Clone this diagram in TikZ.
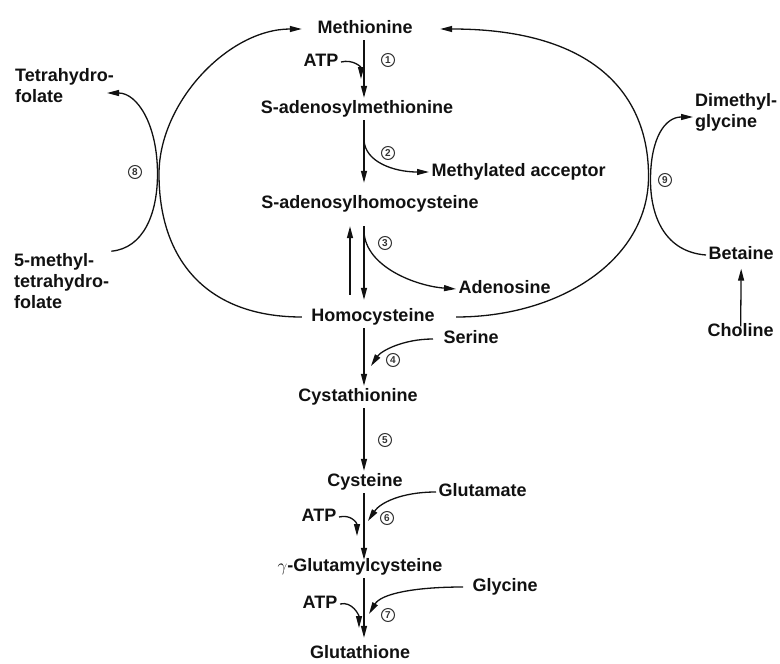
\documentclass[tikz,border=0pt]{standalone}
\usepackage{fontspec}
\setmainfont{Liberation Sans}
\usetikzlibrary{arrows.meta}
\definecolor{PathInk}{HTML}{111111}
\definecolor{StepGray}{HTML}{333333}

\begin{document}
\begin{tikzpicture}[
    x=1pt, y=-1pt,
    font=\fontsize{18}{21}\selectfont\bfseries,
    compound/.style={
        inner sep=2.5pt,
        text height=13pt,
        text depth=4pt,
        text=PathInk
    },
    stack/.style={align=left, inner sep=2pt, text=PathInk},
    enzyme/.style={circle, draw=StepGray, line width=1pt,
                   font=\fontsize{10}{10}\selectfont\bfseries,
                   text=StepGray, inner sep=0pt, minimum size=13pt},
    flow/.style={-{Triangle[length=12pt,width=6pt]},
                 draw=PathInk, line width=1.3pt}
]
    \useasboundingbox (0,0) rectangle (780,664);

    % main column
    \node[compound] (met) at (365,29) {Methionine};
    \node[compound] (atpa) at (321,62) {ATP};
    \node[compound] (sam) at (357,109) {S-adenosylmethionine};
    \node[compound, anchor=west] (macc) at (429,172) {Methylated acceptor};
    \node[compound] (sah) at (370,204) {S-adenosylhomocysteine};
    \node[compound, anchor=west] (aden) at (456,289) {Adenosine};
    \node[compound] (hcy) at (373,317) {Homocysteine};
    \node[compound, anchor=west] (ser) at (441,339) {Serine};
    \node[compound] (cysta) at (358,397) {Cystathionine};
    \node[compound] (cys) at (365,482) {Cysteine};
    \node[compound, anchor=west] (glu) at (436,492) {Glutamate};
    \node[compound] (atpb) at (319,517) {ATP};
    \node[compound] (ggc) at (360,567) {$\gamma$-Glutamylcysteine};
    \node[compound, anchor=west] (gly) at (470,587) {Glycine};
    \node[compound] (atpc) at (320,604) {ATP};
    \node[compound] (gsh) at (360,654) {Glutathione};

    % side cycles
    \node[stack, anchor=west] (thf) at (13,86) {Tetrahydro-\\folate};
    \node[stack, anchor=west] (mthf) at (12,281)
        {5-methyl-\\tetrahydro-\\folate};
    \node[stack, anchor=west] (dmg) at (693,112) {Dimethyl-\\glycine};
    \node[compound, anchor=west] (bet) at (706,255) {Betaine};
    \node[compound, anchor=west] (cho) at (705,332) {Choline};

    \foreach \num/\x/\y in {1/388/60, 2/388/153, 3/385/243, 4/393/360,
                            5/385/440, 6/387/518, 7/388/615, 8/135/172,
                            9/665/180} {
        \node[enzyme] (e\num) at (\x,\y) {\num};
    }

    \coordinate (axis) at (364,0);
    \coordinate (axisb) at (350,0);
    \coordinate (a1) at (361,79);
    \coordinate (a6) at (357,536);
    \coordinate (a7) at (359,628);
    \coordinate (b2) at (364,140);
    \coordinate (b3) at (364,232);
    \coordinate (c4) at (371,366);
    \coordinate (c6) at (368,521);
    \coordinate (c7) at (369,614);
    \coordinate (lk) at (159,174);
    \coordinate (fk) at (157.5,174);
    \coordinate (t8) at (107,93);
    \coordinate (rk) at (648.5,178);
    \coordinate (bk) at (650.5,180);
    \coordinate (t9) at (693,117);

    \draw[flow] (met.south -| axis) -- (sam.north -| axis);
    \draw[flow, shorten >=10pt] (sam.south -| axis) -- (sah.north -| axis);
    \draw[flow, shorten <=11pt, shorten >=6pt]
        (sah.south -| axis) -- (hcy.north -| axis);
    \draw[flow, shorten <=11pt, shorten >=11pt]
        (hcy.north -| axisb) -- (sah.south -| axisb);
    \draw[flow] (hcy.south -| axis) -- (cysta.north -| axis);
    \draw[flow] (cysta.south -| axis) -- (cys.north -| axis);
    \draw[flow, shorten >=-4pt] (cys.south -| axis) -- (ggc.north -| axis);
    \draw[flow, shorten >=5pt] (ggc.south -| axis) -- (gsh.north -| axis);
    \draw[flow, shorten <=-5.5pt, shorten >=2.5pt] (cho.north) -- (bet.south);

    % side reactants and products
    \draw[flow] (atpa.east) .. controls +(12,-3) and +(0,-12) .. (a1);
    \draw[flow] (atpb.east) .. controls +(12,-3) and +(0,-13) .. (a6);
    \draw[flow] (atpc.east) .. controls +(12,-3) and +(0,-13) .. (a7);
    \draw[flow] (b2) .. controls +(1,22) and +(-35,0) .. (macc.west);
    \draw[flow] (b3) .. controls +(2,35) and +(-40,-3) .. (aden.west);
    \draw[flow] ([xshift=-8pt]ser.west) .. controls +(-30,0) and +(10,-15) .. (c4);
    \draw[flow] (glu.west) .. controls +(-35,0) and +(12,-18) .. (c6);
    \draw[flow] ([xshift=-7pt]gly.west) .. controls +(-50,0) and +(12,-20) .. (c7);

    % methionine regeneration
    \draw[flow] ([xshift=-7pt]hcy.west) .. controls +(-95,0) and +(0,86) .. (lk)
        .. controls +(0,-72) and +(-73,0) .. ([xshift=-13pt]met.west);
    \draw[flow] (mthf.north east) .. controls +(32,-3) and +(0,40) .. (fk)
        .. controls +(0,-50) and +(30,0) .. (t8);
    \draw[flow] ([xshift=19pt]hcy.east) .. controls +(104,0) and +(-1,82) .. (rk)
        .. controls +(1,-78) and +(160,0) .. ([xshift=25pt]met.east);
    \draw[flow] (bet.west) .. controls +(-40,-3) and +(0,38) .. (bk)
        .. controls +(0,-42) and +(-28,0) .. (t9);
\end{tikzpicture}
\end{document}
